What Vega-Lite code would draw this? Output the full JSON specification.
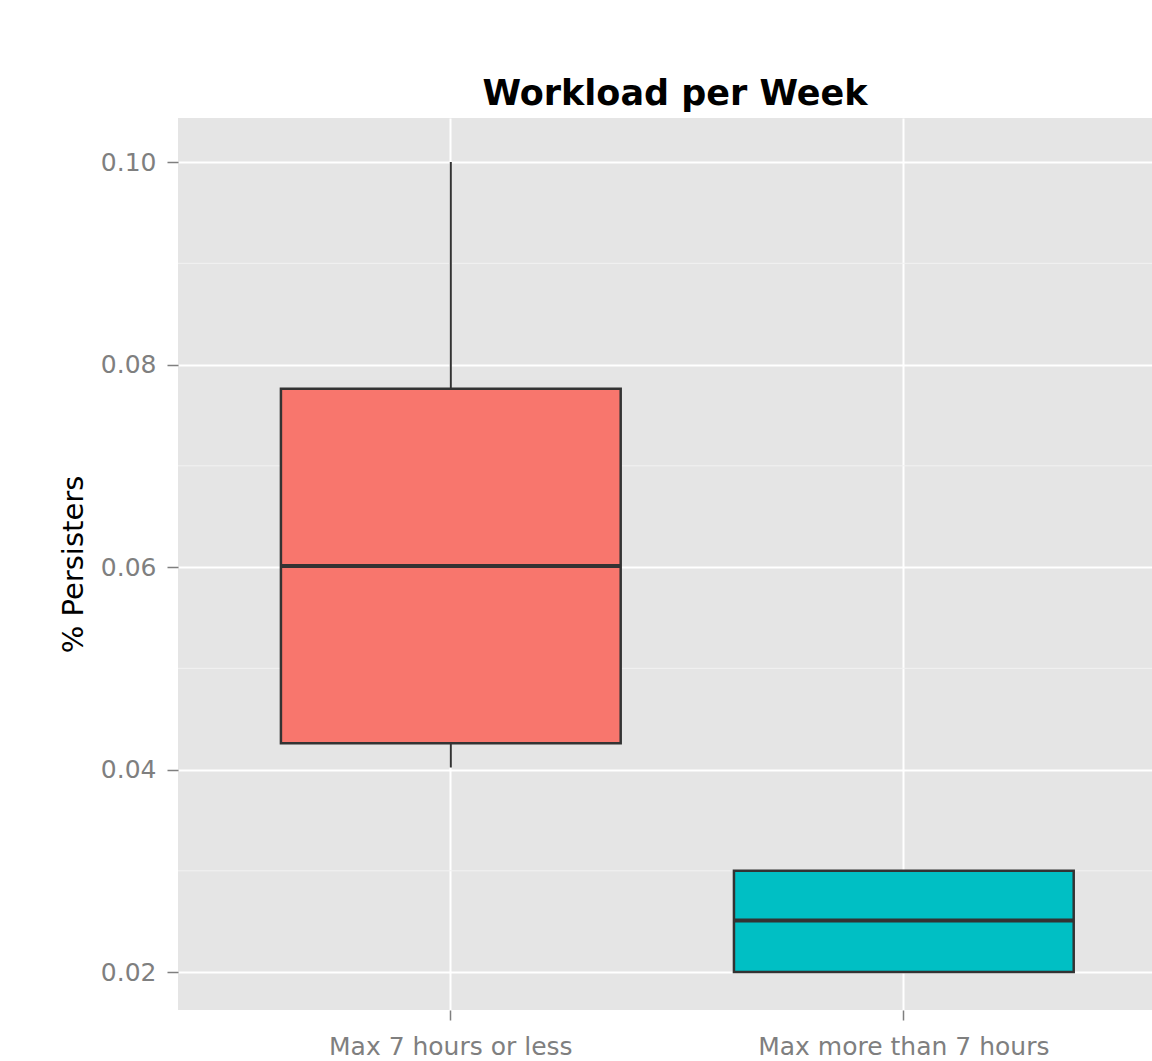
{
  "$schema": "https://vega.github.io/schema/vega-lite/v6.json",
  "width": 974,
  "height": 892,
  "autosize": {"type": "none"},
  "padding": {"left": 178, "top": 118, "right": 0, "bottom": 51},
  "background": "white",
  "title": {
    "text": "Workload per Week",
    "font": "DejaVu Sans",
    "fontSize": 35,
    "fontWeight": "bold",
    "color": "black",
    "anchor": "middle",
    "baseline": "alphabetic",
    "offset": -22,
    "dx": 10
  },
  "config": {
    "view": {"fill": "#E5E5E5", "stroke": null},
    "font": "DejaVu Sans"
  },
  "datasets": {
    "boxes": [
      {"group": "Max 7 hours or less", "lower": 0.0402, "q1": 0.0426, "median": 0.0601, "q3": 0.0776, "upper": 0.1},
      {"group": "Max more than 7 hours", "lower": 0.02, "q1": 0.02, "median": 0.0251, "q3": 0.03, "upper": 0.03}
    ],
    "minor": [{"v": 0.03}, {"v": 0.05}, {"v": 0.07}, {"v": 0.09}]
  },
  "layer": [
    {
      "data": {"name": "minor"},
      "mark": {"type": "rule", "color": "#F2F2F2", "strokeWidth": 1},
      "encoding": {
        "y": {
          "field": "v",
          "type": "quantitative",
          "scale": {"domain": [0.01625, 0.10435], "nice": false, "zero": false},
          "axis": {
            "values": [0.02, 0.04, 0.06, 0.08, 0.1],
            "format": ".2f",
            "title": "% Persisters",
            "titleFont": "DejaVu Sans",
            "titleFontSize": 29,
            "titleFontWeight": "normal",
            "titleColor": "black",
            "titlePadding": 12,
            "labelFont": "DejaVu Sans",
            "labelFontSize": 25,
            "labelColor": "#7F7F7F",
            "labelPadding": 11,
            "tickColor": "#7F7F7F",
            "tickSize": 11,
            "tickWidth": 1.5,
            "domain": false,
            "grid": true,
            "gridColor": "white",
            "gridWidth": 2
          }
        }
      }
    },
    {
      "data": {"name": "boxes"},
      "mark": {"type": "rule", "color": "#333333", "strokeWidth": 2},
      "encoding": {
        "x": {
          "field": "group",
          "type": "nominal",
          "sort": null,
          "scale": {"type": "band", "paddingInner": 0.25, "paddingOuter": 0.2, "align": 0.568},
          "axis": {
            "title": null,
            "labelAngle": 0,
            "labelLimit": 0,
            "labelOverlap": false,
            "labelFont": "DejaVu Sans",
            "labelFontSize": 25,
            "labelColor": "#7F7F7F",
            "labelPadding": 14,
            "tickColor": "#7F7F7F",
            "tickSize": 10,
            "tickWidth": 1.5,
            "domain": false,
            "grid": true,
            "gridColor": "white",
            "gridWidth": 2,
            "bandPosition": 0.5
          }
        },
        "y": {"field": "lower", "type": "quantitative"},
        "y2": {"field": "upper"}
      }
    },
    {
      "data": {"name": "boxes"},
      "mark": {"type": "bar", "stroke": "#333333", "strokeWidth": 2.5},
      "encoding": {
        "x": {"field": "group", "type": "nominal", "sort": null},
        "y": {"field": "q1", "type": "quantitative"},
        "y2": {"field": "q3"},
        "fill": {
          "field": "group",
          "type": "nominal",
          "scale": {"range": ["#F8766D", "#00BFC4"]},
          "legend": null
        }
      }
    },
    {
      "data": {"name": "boxes"},
      "mark": {"type": "tick", "color": "#333333", "size": 340, "thickness": 4, "opacity": 1},
      "encoding": {
        "x": {"field": "group", "type": "nominal", "sort": null},
        "y": {"field": "median", "type": "quantitative"}
      }
    }
  ]
}
